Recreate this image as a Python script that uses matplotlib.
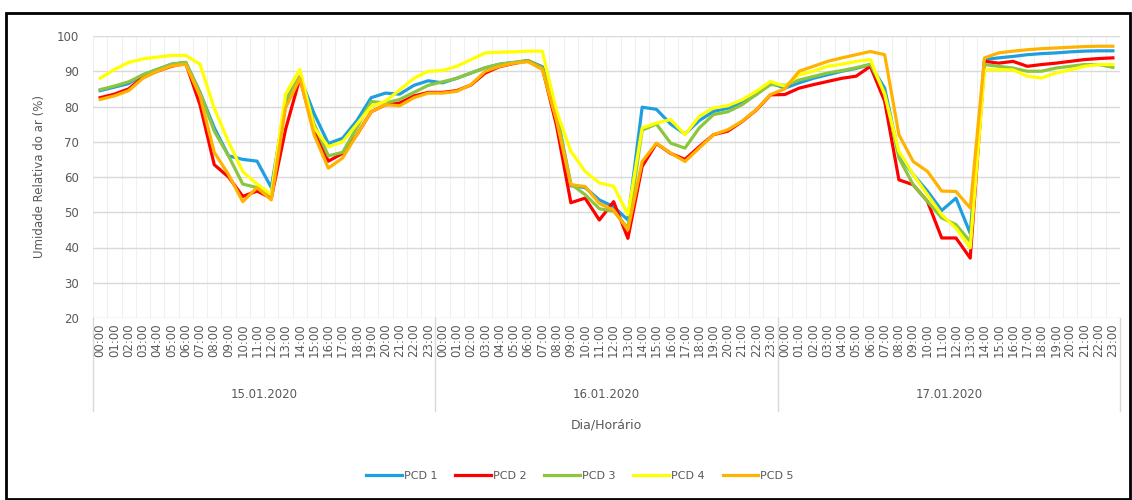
import matplotlib
matplotlib.use("Agg")
import matplotlib.pyplot as plt
import matplotlib.transforms as mtransforms
from matplotlib.patches import Rectangle

hours = [f"{h:02d}:00" for h in range(24)]
dates = ["15.01.2020", "16.01.2020", "17.01.2020"]
series_names = ["PCD 1", "PCD 2", "PCD 3", "PCD 4", "PCD 5"]

pcd1 = [84.5, 85.5, 86.5, 89, 90.5, 92, 92.5, 84, 74, 66, 65, 64.5, 57, 81, 88.5, 78, 69.5, 71, 76, 82.5, 83.8, 83.5, 86, 87.3,
        86.7, 88, 89.5, 91, 92, 92.5, 93, 91.3, 78, 57.5, 57, 53.5, 51.6, 47.8, 79.8, 79.2, 75, 72.2, 76, 78.6, 79.5, 81, 83.4, 86.7,
        85.2, 86.7, 88, 89, 90, 90.8, 91.9, 85.2, 66.3, 60.7, 56, 50.5, 54, 44, 93.3, 93.8, 94.2, 94.7, 95, 95.2, 95.5, 95.7, 95.8, 95.8]
pcd2 = [82.5, 83.5, 85, 88.3, 90, 91.4, 92.3, 80.5, 63.5, 60, 54.5, 56, 54, 73.5, 88, 73, 64.5, 66.7, 72, 78.5, 80.5, 81, 83, 84,
        84, 84.5, 86.1, 89.5, 91.3, 92.2, 93, 91, 74.5, 52.7, 54, 47.8, 53, 42.6, 63, 69.5, 66.7, 65, 68.6, 72, 73, 75.7, 79, 83.3,
        83.4, 85.2, 86.2, 87.1, 88, 88.6, 91.4, 81.5, 59.2, 57.8, 53.1, 42.7, 42.7, 37, 92.8, 92.3, 92.8, 91.4, 91.9, 92.3, 92.8, 93.3, 93.6, 93.8]
pcd3 = [84.8, 85.8, 87, 89, 90.5, 92, 92.5, 84, 73, 66, 58, 57, 55, 82, 88.5, 75, 66, 67, 74, 81.4, 81, 82, 84, 86,
        87, 88, 89.5, 91, 92, 92.5, 93, 91, 78, 58, 55, 51, 50.3, 45.5, 73.3, 75, 69.6, 68.2, 73.9, 77.7, 78.5, 80.5, 83.4, 86.2,
        86, 87.5, 88.5, 89.5, 90.2, 91, 92, 84, 65.4, 57.8, 53.1, 48.4, 46.5, 41.7, 91.9, 91.4, 90.9, 90, 90, 90.9, 91.4, 91.9, 91.9, 91.1]
pcd4 = [88, 90.5, 92.5, 93.5, 94, 94.5, 94.5, 92, 79.5, 70, 61.5, 58, 55, 83.5, 90.5, 74, 68.6, 70, 75, 80, 81.5, 84.7, 88, 90,
        90.2, 91.4, 93.3, 95.2, 95.4, 95.5, 95.7, 95.7, 78.6, 67.3, 61.6, 58.3, 57.4, 49.3, 73.9, 75.3, 76.3, 72, 77.2, 79.6, 80.2, 81.9, 84.3, 87.1,
        85.7, 89, 90, 91.4, 92, 92.8, 93.3, 83.4, 67.3, 60.7, 55, 49.3, 45.5, 39.9, 90.4, 90.4, 90.4, 88.6, 88.1, 89.5, 90.4, 91.4, 91.9, 91.9]
pcd5 = [82, 83, 84.5, 88, 90, 91.5, 92, 83, 67, 60.7, 53, 57, 53.5, 79.6, 88, 72, 62.5, 65.4, 72, 78.5, 80.5, 80.2, 82.5, 83.8,
        83.8, 84.3, 86.2, 90, 91.4, 92.3, 92.7, 90.5, 76, 57.8, 57.3, 52.5, 50.6, 45, 64.4, 69.6, 66.8, 64.4, 68.2, 72, 73.4, 75.8, 79.1, 83.4,
        85, 90, 91.4, 92.8, 93.8, 94.7, 95.6, 94.7, 72, 64.4, 61.6, 56, 55.9, 51.2, 93.8, 95.2, 95.7, 96.1, 96.4, 96.6, 96.8, 97, 97.1, 97.1]

colors = ["#1f9fe0", "#ff0000", "#8cc63f", "#ffff00", "#ffb300"]
text_color = "#595959"

plt.rcParams["font.family"] = ["DejaVu Sans"]

fig = plt.figure(figsize=(11.32, 5.0), dpi=100)
ax = fig.add_axes([93 / 1132, 1 - 318 / 500, (1120 - 93) / 1132, (318 - 36) / 500])

n = len(hours) * len(dates)
x = list(range(n))
for name, vals, c in zip(series_names, [pcd1, pcd2, pcd3, pcd4, pcd5], colors):
    ax.plot(x, vals, color=c, lw=2.3, label=name, solid_joinstyle="round")

ax.set_xlim(-0.5, n - 0.5)
ax.set_ylim(20, 100)
ax.set_yticks(range(20, 101, 10))
ax.set_xticks(x)
ax.set_xticklabels(hours * len(dates), rotation=90, fontsize=8.5, color=text_color)
ax.tick_params(axis="y", labelsize=8.5, colors=text_color, length=0, pad=10)
ax.tick_params(axis="x", length=0, pad=4)
for s in ax.spines.values():
    s.set_visible(False)

# gridlines
ax.set_axisbelow(True)
ax.yaxis.grid(True, color="#d9d9d9", lw=1)
for b in range(n + 1):
    ax.axvline(b - 0.5, color="#f0f0f0", lw=0.8, zorder=0)

trans = mtransforms.blended_transform_factory(ax.transData, ax.transAxes)
for d in range(len(dates) + 1):
    xb = d * 24 - 0.5
    ax.plot([xb, xb], [0, -0.33], transform=trans, color="#d9d9d9", lw=1, clip_on=False)
for d, lab in enumerate(dates):
    ax.text(d * 24 + 11.5, -0.273, lab, transform=trans, ha="center", va="center",
            fontsize=8.5, color=text_color)

ax.text(0.5, -0.379, "Dia/Horário", transform=ax.transAxes, ha="center", va="center",
        fontsize=9, color=text_color)
ax.set_ylabel("Umidade Relativa do ar (%)", fontsize=8.5, color=text_color, labelpad=8)

fig.legend(loc="center", bbox_to_anchor=(580 / 1132, 1 - 476 / 500), ncol=5, frameon=False,
           fontsize=8, handlelength=3.2, handletextpad=0.2, columnspacing=1.6,
           labelcolor=text_color)

fig.patches.append(Rectangle((6 / 1132, 1 / 500), 1124 / 1132, 486 / 500, transform=fig.transFigure,
                             fill=False, edgecolor="black", lw=2))

fig.savefig("out.png", dpi=100)
